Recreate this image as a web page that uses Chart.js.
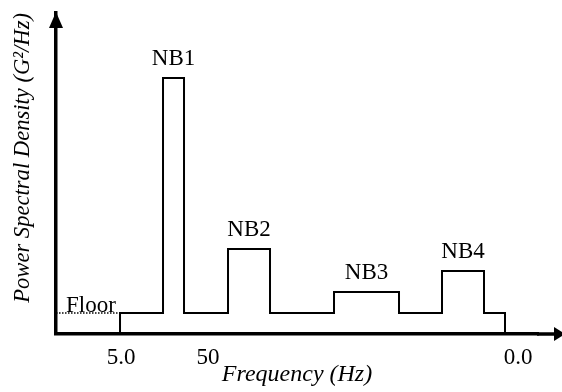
<!DOCTYPE html>
<html>
<head>
<meta charset="utf-8">
<script src="https://cdn.jsdelivr.net/npm/chart.js@4.4.0/dist/chart.umd.min.js"></script>
<style>
  html, body { margin: 0; padding: 0; background: #fff; }
  #wrap { width: 562px; height: 392px; }
</style>
</head>
<body>
<div id="wrap"><canvas id="c" width="562" height="392"></canvas></div>
<script>
// Band edges along the frequency axis (arbitrary units)
const bandEdges = [64, 107, 128, 172, 214, 278, 343, 386, 428, 449];
// PSD level of each band between consecutive edges
const bandLevels = [21, 256, 21, 85, 21, 42, 21, 63, 21];
// Band names (empty = floor)
const bandNames = ['', 'NB1', '', 'NB2', '', 'NB3', '', 'NB4', ''];
// Floor reference (dotted) from axis origin to profile start
const floorLevel = 21;
// Frequency tick positions and labels
const tickValues = [65, 152, 462];
const tickLabels = ['5.0', '50', '0.0'];
const xMax = 482;
const yMax = 321;

// Build the step profile from the arrays
const profile = [{x: bandEdges[0], y: 0}];
for (let i = 0; i < bandLevels.length; i++) {
  profile.push({x: bandEdges[i], y: bandLevels[i]});
  profile.push({x: bandEdges[i + 1], y: bandLevels[i]});
}
profile.push({x: bandEdges[bandEdges.length - 1], y: 0});

const floorLine = [{x: 0, y: floorLevel}, {x: bandEdges[0], y: floorLevel}];

const SERIF = '"Liberation Serif", "Times New Roman", serif';

const decor = {
  id: 'decor',
  afterDatasetsDraw(chart) {
    const {ctx, chartArea} = chart;
    const xs = chart.scales.x, ys = chart.scales.y;
    ctx.save();
    ctx.fillStyle = '#000';
    ctx.strokeStyle = '#000';
    // extend x axis and arrowheads
    const y0 = ys.getPixelForValue(0);
    const x0 = xs.getPixelForValue(0);
    ctx.lineWidth = 3.5;
    ctx.beginPath();
    ctx.moveTo(chartArea.right - 1, y0);
    ctx.lineTo(556, y0);
    ctx.stroke();
    ctx.beginPath();
    ctx.moveTo(554, y0 - 7);
    ctx.lineTo(565, y0);
    ctx.lineTo(554, y0 + 7);
    ctx.closePath();
    ctx.fill();
    ctx.beginPath();
    ctx.moveTo(x0 - 7, chartArea.top + 15);
    ctx.lineTo(x0, chartArea.top - 1);
    ctx.lineTo(x0 + 7, chartArea.top + 15);
    ctx.closePath();
    ctx.fill();
    // band labels
    ctx.font = '23px ' + SERIF;
    ctx.textAlign = 'center';
    ctx.textBaseline = 'alphabetic';
    for (let i = 0; i < bandNames.length; i++) {
      if (!bandNames[i]) continue;
      const cx = (xs.getPixelForValue(bandEdges[i]) + xs.getPixelForValue(bandEdges[i + 1])) / 2;
      const ty = ys.getPixelForValue(bandLevels[i]) - 13;
      ctx.fillText(bandNames[i], cx, ty);
    }
    // Floor label
    ctx.textAlign = 'left';
    ctx.fillText('Floor', x0 + 10, ys.getPixelForValue(floorLevel) - 1.5);
    ctx.restore();
  }
};

new Chart(document.getElementById('c'), {
  type: 'line',
  data: {
    datasets: [
      {
        data: profile,
        borderColor: '#000',
        borderWidth: 2,
        pointRadius: 0,
        tension: 0,
        fill: false,
        clip: false
      },
      {
        data: floorLine,
        borderColor: '#000',
        borderWidth: 1.5,
        borderDash: [1.5, 1.5],
        pointRadius: 0,
        tension: 0,
        fill: false,
        clip: false
      }
    ]
  },
  options: {
    responsive: false,
    animation: false,
    events: [],
    layout: { padding: { top: 13, right: 24, bottom: 0, left: 0 } },
    plugins: { legend: { display: false }, tooltip: { enabled: false } },
    scales: {
      x: {
        type: 'linear',
        min: 0,
        max: xMax,
        grid: { display: false, drawTicks: false },
        border: { display: true, color: '#000', width: 3.5 },
        afterBuildTicks(scale) { scale.ticks = tickValues.map(v => ({ value: v })); },
        ticks: {
          autoSkip: false,
          maxRotation: 0,
          padding: 9.7,
          color: '#000',
          font: { family: SERIF, size: 23, lineHeight: 1.2 },
          callback: (v, i) => tickLabels[i]
        },
        title: {
          display: true,
          text: 'Frequency (Hz)',
          color: '#000',
          font: { family: SERIF, size: 24, style: 'italic', lineHeight: 1.2 },
          padding: { top: -20.4, bottom: 2.6 }
        }
      },
      y: {
        type: 'linear',
        min: 0,
        max: yMax,
        grid: { display: false, drawTicks: false },
        border: { display: true, color: '#000', width: 3.5 },
        ticks: { display: false },
        title: {
          display: true,
          text: 'Power Spectral Density (G\u00B2/Hz)',
          align: 'end',
          color: '#000',
          font: { family: SERIF, size: 22.6, style: 'italic', lineHeight: 1.2 },
          padding: { top: 9.4, bottom: 19.5 }
        }
      }
    }
  },
  plugins: [decor]
});
</script>
</body>
</html>
